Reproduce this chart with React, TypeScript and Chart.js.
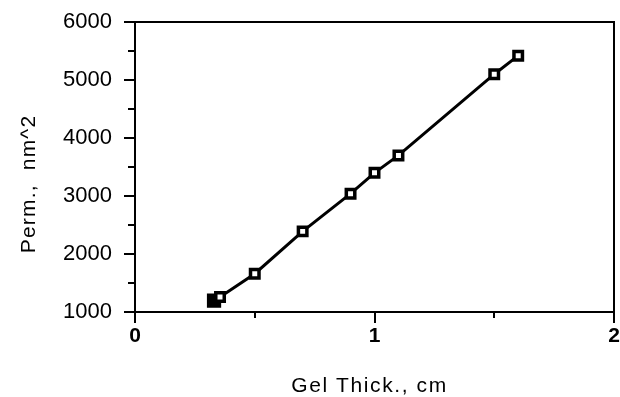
import { useEffect, useRef } from 'react';
import { Chart, registerables } from 'chart.js';

Chart.register(...registerables);

// Data
const gelThickness = [0.33, 0.355, 0.5, 0.7, 0.9, 1.0, 1.1, 1.5, 1.6];
const permeability = [1195, 1260, 1660, 2390, 3040, 3400, 3700, 5100, 5420];
const pointFill = ['#000000', '#ffffff', '#ffffff', '#ffffff', '#ffffff', '#ffffff', '#ffffff', '#ffffff', '#ffffff'];
const pointSize = [7.6, 6, 6, 6, 6, 6, 6, 6, 6];

const xTitle = 'Gel Thick., cm';
const yTitle = 'Perm.,  nm^2';
const xMin = 0;
const xMax = 2;
const xStep = 0.5;
const yMin = 1000;
const yMax = 6000;
const yStep = 500;

const framePlugin = {
  id: 'frameAndTicks',
  afterDraw(chart: any) {
    const { ctx, chartArea } = chart;
    const { left, right, top, bottom } = chartArea;
    const xs = chart.scales.x;
    const ys = chart.scales.y;
    ctx.save();
    ctx.strokeStyle = '#000';
    ctx.lineWidth = 2;
    ctx.lineCap = 'butt';
    // top & right frame
    ctx.beginPath();
    ctx.moveTo(left - 1, top);
    ctx.lineTo(right, top);
    ctx.lineTo(right, bottom + 1);
    ctx.stroke();
    // y ticks (outside, left)
    ys.ticks.forEach((t: any) => {
      const py = Math.round(ys.getPixelForValue(t.value));
      const len = t.value % 1000 === 0 ? 11 : 7;
      ctx.beginPath();
      ctx.moveTo(left - len, py);
      ctx.lineTo(left, py);
      ctx.stroke();
    });
    // x ticks (outside, below)
    xs.ticks.forEach((t: any) => {
      const px = Math.round(xs.getPixelForValue(t.value));
      const len = Number.isInteger(t.value) ? 11 : 6;
      ctx.beginPath();
      ctx.moveTo(px, bottom);
      ctx.lineTo(px, bottom + len);
      ctx.stroke();
    });
    // axis titles
    ctx.fillStyle = '#000';
    ctx.font = '21px "Liberation Sans", Arial, sans-serif';
    ctx.textAlign = 'center';
    ctx.textBaseline = 'alphabetic';
    try { (ctx as any).letterSpacing = '1.6px'; } catch (e) {}
    ctx.fillText(xTitle, (left + right) / 2 - 5, chart.height - 5);
    try { (ctx as any).letterSpacing = '1.2px'; } catch (e) {}
    ctx.translate(35, (top + bottom) / 2 + 17);
    ctx.rotate(-Math.PI / 2);
    ctx.fillText(yTitle, 0, 0);
    ctx.restore();
  },
};

const zeroPadding = (s: any) => {
  s.paddingTop = 0;
  s.paddingBottom = 0;
  s.paddingLeft = 0;
  s.paddingRight = 0;
};

export default function App() {
  const canvasRef = useRef<HTMLCanvasElement>(null);

  useEffect(() => {
    document.body.style.margin = '0';
    const canvas = canvasRef.current;
    if (!canvas) return;
    const points = gelThickness.map((x, i) => ({ x, y: permeability[i] }));
    const chart = new Chart(canvas, {
      type: 'scatter',
      data: {
        datasets: [
          {
            data: points,
            showLine: true,
            borderColor: '#000',
            borderWidth: 3,
            pointStyle: 'rect',
            pointRadius: pointSize,
            pointBorderWidth: 3.5,
            pointBorderColor: '#000',
            pointBackgroundColor: pointFill,
            tension: 0,
          } as any,
          {
            data: points,
            showLine: false,
            pointStyle: 'rect',
            pointRadius: 1.3,
            pointBorderWidth: 0,
            pointBackgroundColor: '#000',
          } as any,
        ],
      },
      options: {
        animation: false,
        responsive: false,
        devicePixelRatio: 1,
        layout: { autoPadding: false, padding: { top: 22, right: 6, left: 0, bottom: 0 } },
        plugins: {
          legend: { display: false },
          tooltip: { enabled: false },
        },
        scales: {
          x: {
            type: 'linear',
            position: 'bottom',
            min: xMin,
            max: xMax,
            grid: { display: false, drawTicks: false },
            border: { display: true, color: '#000', width: 2 },
            ticks: {
              stepSize: xStep,
              autoSkip: false,
              maxRotation: 0,
              padding: 12,
              color: '#000',
              font: { family: '"Liberation Sans", Arial, sans-serif', size: 21, weight: 'bold' },
              callback: (v: any) => (Number.isInteger(v) ? String(v) : ''),
            },
            afterFit: (s: any) => {
              s.height = 85;
              zeroPadding(s);
            },
          },
          y: {
            type: 'linear',
            position: 'left',
            min: yMin,
            max: yMax,
            grid: { display: false, drawTicks: false },
            border: { display: true, color: '#000', width: 2 },
            ticks: {
              stepSize: yStep,
              autoSkip: false,
              padding: 23,
              color: '#000',
              font: { family: '"Liberation Sans", Arial, sans-serif', size: 22 },
              callback: (v: any) => (v % 1000 === 0 ? String(v) : ''),
            },
            afterFit: (s: any) => {
              s.width = 135;
              zeroPadding(s);
            },
          },
        },
      },
      plugins: [framePlugin],
    });
    return () => chart.destroy();
  }, []);

  return (
    <div style={{ width: 620, height: 397 }}>
      <canvas ref={canvasRef} width={620} height={397} style={{ display: 'block' }} />
    </div>
  );
}
